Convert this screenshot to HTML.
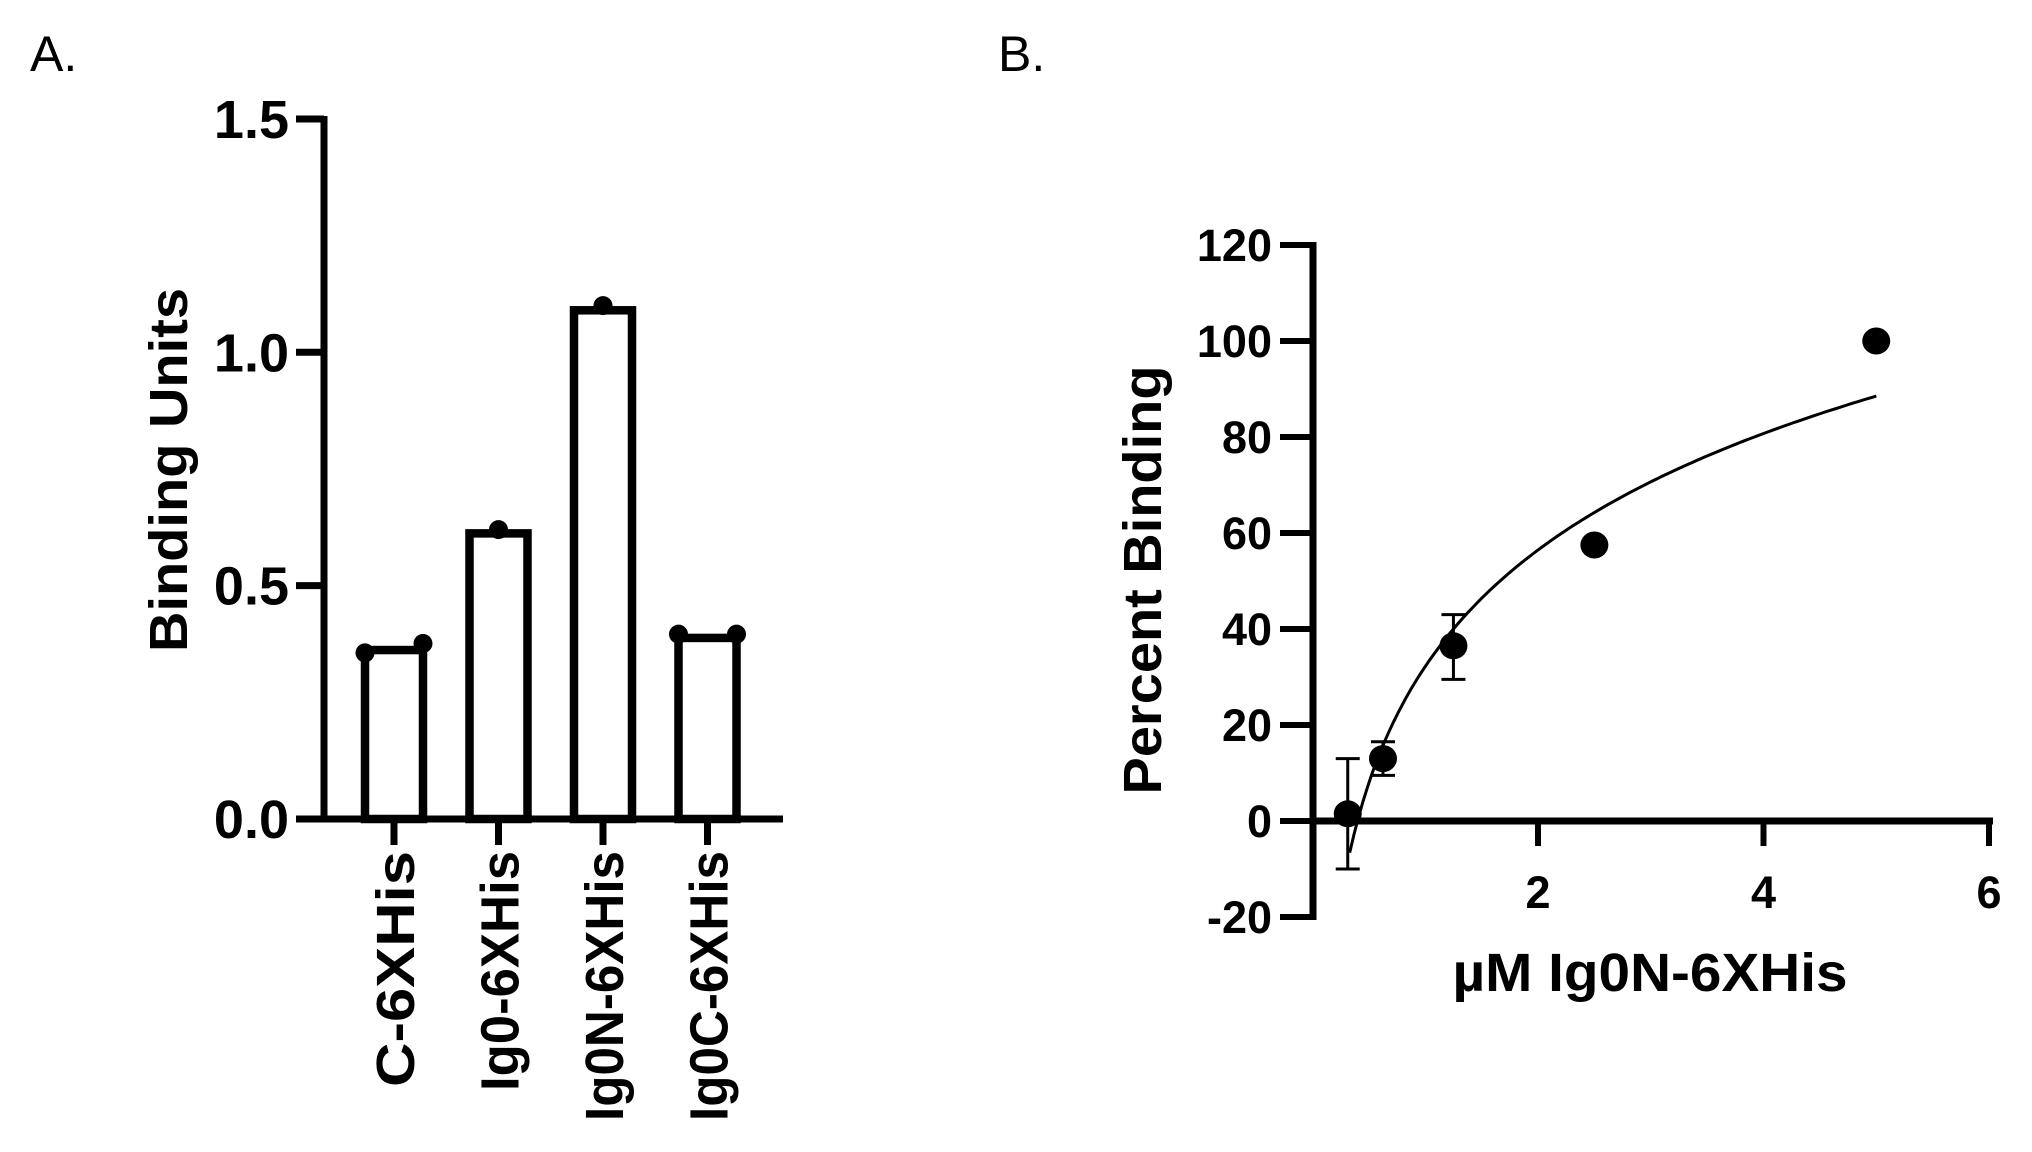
<!DOCTYPE html>
<html><head><meta charset="utf-8"><style>
html,body{margin:0;padding:0;background:#fff;}
svg{display:block;font-family:"Liberation Sans",Arial,sans-serif;}
</style></head><body>
<svg id="fig" width="2032" height="1152" viewBox="0 0 2032 1152">
<text x="30" y="71" font-size="50">A.</text>
<text x="998" y="71" font-size="50">B.</text>
<g id="ga"></g>
<g id="gb"></g>
</svg>
<script>
const NS='http://www.w3.org/2000/svg';
const barCategories=['C-6XHis','Ig0-6XHis','Ig0N-6XHis','Ig0C-6XHis'];
const barValues=[0.362,0.612,1.09,0.388];
const barPointsLeft=[0.356,null,null,0.396];
const barPointsRight=[0.376,null,null,0.396];
const barPointsCenter=[null,0.62,1.10,null];
const barYTicks=[0,0.5,1.0,1.5];
const barYTickLabels=['0.0','0.5','1.0','1.5'];

const concX=[0.3125,0.625,1.25,2.5,5];
const pctY=[1.5,13,36.5,57.5,100];
const errLow=[-10,9.5,29.5,null,null];
const errHigh=[13,16.5,43,null,null];
const fitSlope=[35];
const fitIntercept=[32.2];
const fitRange=[0.33,5];
const bYTicks=[-20,0,20,40,60,80,100,120];
const bXTicks=[2,4,6];

function el(p,t,a){const e=document.createElementNS(NS,t);for(const k in a)e.setAttribute(k,a[k]);p.appendChild(e);return e;}

// Panel A
const ga=document.getElementById('ga');
const ay=v=>819-v*466.7;
const ax=i=>394+i*104.5;
const catLen=[236,240,270,270];
let ln=el(ga,'path',{d:'M324,116 V822 M296,819 H783',stroke:'#000','stroke-width':7,fill:'none'});

barYTicks.forEach((v,i)=>{
  let t=el(ga,'line',{x1:296,x2:324,y1:ay(v),y2:ay(v),stroke:'#000','stroke-width':7});
  
  let tx=el(ga,'text',{x:289,y:ay(v)+19,'font-size':54,'font-weight':'bold','text-anchor':'end'});
  tx.textContent=barYTickLabels[i];
  
});
barCategories.forEach((c,i)=>{
  const x=ax(i);
  let b=el(ga,'rect',{x:x-29,y:ay(barValues[i]),width:58,height:819-ay(barValues[i]),fill:'#fff',stroke:'#000','stroke-width':8.5});
  
  let t=el(ga,'line',{x1:x,x2:x,y1:819,y2:845,stroke:'#000','stroke-width':7});
  
  let tx=el(ga,'text',{transform:`translate(${x+20},851) rotate(-90)`,'font-size':54,'font-weight':'bold','text-anchor':'end',textLength:catLen[i],lengthAdjust:'spacingAndGlyphs'});
  tx.textContent=c;
  
  [[barPointsLeft[i],x-29],[barPointsRight[i],x+29],[barPointsCenter[i],x]].forEach(([v,px])=>{
    if(v==null)return;
    let d=el(ga,'circle',{cx:px,cy:ay(v),r:9.5,fill:'#000'});
    
  });
});
let at=el(ga,'text',{transform:'translate(187,470) rotate(-90)','font-size':54,'font-weight':'bold','text-anchor':'middle',textLength:364,lengthAdjust:'spacingAndGlyphs'});
at.textContent='Binding Units';


// Panel B
const gb=document.getElementById('gb');
const by=v=>821-v*4.8;
const bx=v=>1312.5+v*112.75;
let lb=el(gb,'path',{d:'M1313,242 V920 M1310,821 H1993',stroke:'#000','stroke-width':7,fill:'none'});

bYTicks.forEach(v=>{
  let t=el(gb,'line',{x1:1280,x2:1313,y1:by(v),y2:by(v),stroke:'#000','stroke-width':6});
  
  let tx=el(gb,'text',{x:1272,y:by(v)+16,'font-size':45,'font-weight':'bold','text-anchor':'end'});
  tx.textContent=String(v);
  
});
bXTicks.forEach(v=>{
  let t=el(gb,'line',{x1:bx(v),x2:bx(v),y1:821,y2:846,stroke:'#000','stroke-width':6});
  
  let tx=el(gb,'text',{x:bx(v),y:908,'font-size':45,'font-weight':'bold','text-anchor':'middle'});
  tx.textContent=String(v);
  
});
let pts=[];
for(let k=0;k<=120;k++){const x=fitRange[0]+(fitRange[1]-fitRange[0])*k/120;const y=fitIntercept[0]+fitSlope[0]*Math.log(x);pts.push((k?'L':'M')+bx(x).toFixed(1)+','+by(y).toFixed(1));}
let cv=el(gb,'path',{d:pts.join(' '),stroke:'#000','stroke-width':3,fill:'none'});

concX.forEach((x,i)=>{
  const px=bx(x);
  if(errLow[i]!=null){
    let e=el(gb,'path',{d:`M${px},${by(errHigh[i])} V${by(errLow[i])} M${px-12},${by(errHigh[i])} H${px+12} M${px-12},${by(errLow[i])} H${px+12}`,stroke:'#000','stroke-width':3,fill:'none'});
    
  }
  let d=el(gb,'ellipse',{cx:px,cy:by(pctY[i]),rx:14,ry:13.5,fill:'#000'});
  
});
let byt=el(gb,'text',{transform:'translate(1161,580) rotate(-90)','font-size':54,'font-weight':'bold','text-anchor':'middle',textLength:429,lengthAdjust:'spacingAndGlyphs'});
byt.textContent='Percent Binding';

let bxt=el(gb,'text',{x:1650,y:991,'font-size':54,'font-weight':'bold','text-anchor':'middle',textLength:395,lengthAdjust:'spacingAndGlyphs'});
bxt.textContent='µM Ig0N-6XHis';

</script>
</body></html>
